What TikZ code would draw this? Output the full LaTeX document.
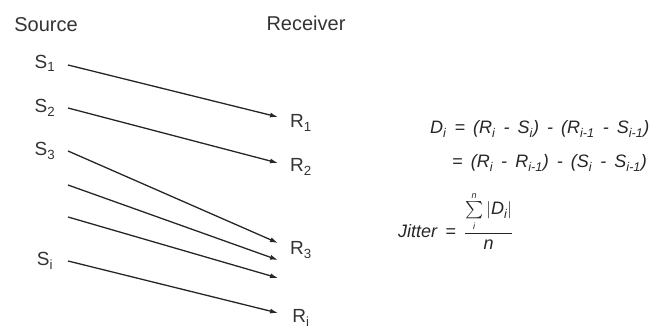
\documentclass[tikz,border=0pt]{standalone}
\usepackage{amsmath}
\usepackage{fontspec}
\setmainfont{Liberation Sans}
\usetikzlibrary{arrows.meta}
\newcommand{\widespace}{\spaceskip=0.45em\relax}

\begin{document}
\begin{tikzpicture}[x=1pt,y=-1pt]
	% styles for the packets and labels
	\tikzset{
		msg/.style={line width=1.3pt, black!85, -{Latex[length=8pt,width=5pt]}},
		lbl/.style={inner sep=0pt, text=black!80, font=\fontsize{19}{22}\selectfont},
		title/.style={inner sep=0pt, text=black!80, font=\fontsize{20}{24}\selectfont},
		eq/.style={inner sep=0pt, text=black!85, font=\fontsize{18}{21}\selectfont\itshape\widespace}
	}
	\useasboundingbox (0,0) rectangle (657,328);
	
	% headings
	\node[title] (source) at (46,25) {Source};
	\node[title] (receiver) at (306,23) {Receiver};
	
	% send and receive points of the packets
	\foreach \n/\ys/\ye in {1/65/117, 2/108/163, 3/151/243, 4/185/260, 5/217/278, 6/261/313} {
		\coordinate (tail\n) at (68,\ys);
		\coordinate (head\n) at (278,\ye);
	}
	
	% source labels
	\foreach \n/\s/\y in {1/1/63, 2/2/108, 3/3/151, 6/i/261} {
		\node[lbl] (S\n) at (45,\y) {S\textsubscript{\s}};
	}
	
	% receiver labels
	\foreach \n/\s/\y in {1/1/123, 2/2/167, 3/3/250, 6/i/318} {
		\node[lbl] (R\n) at (301,\y) {R\textsubscript{\s}};
	}
	
	% packets
	\foreach \n in {1,...,6} {
		\draw[msg] (tail\n) -- (head\n);
	}
	
	% jitter formula
	\node[eq, anchor=base west] (delay) at (430,134) {D\textsubscript{i} = (R\textsubscript{i} - S\textsubscript{i}) - (R\textsubscript{i-1} - S\textsubscript{i-1})};
	\node[eq, anchor=base west] (delay2) at (452,168) {= (R\textsubscript{i} - R\textsubscript{i-1}) - (S\textsubscript{i} - S\textsubscript{i-1})};
	\node[eq, anchor=base west] (jitter) at (398,238) {Jitter = $\dfrac{\textstyle\sum\limits_{\scriptscriptstyle\textit{i}}^{\scriptscriptstyle\textit{n}}|\textit{D}_{\textit{i}}|}{\textit{n}}$};
\end{tikzpicture}
\end{document}
